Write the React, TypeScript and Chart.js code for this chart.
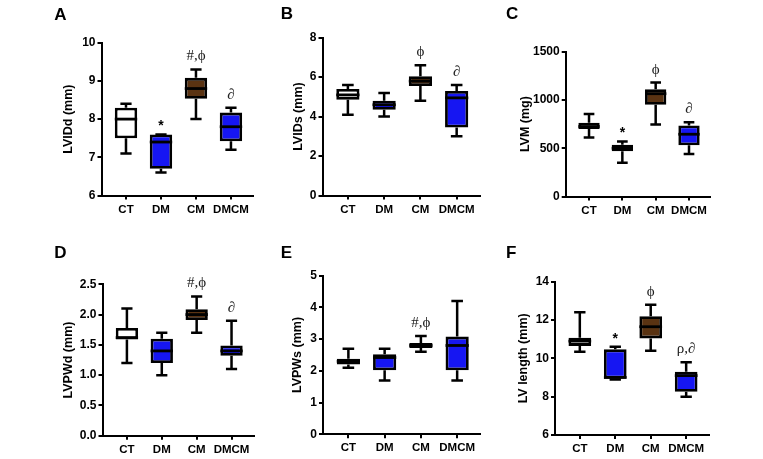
import React, { useEffect, useRef } from 'react';
import { Chart, registerables } from 'chart.js';

Chart.register(...registerables);

// ---------- DATA ----------
const categories = ['CT', 'DM', 'CM', 'DMCM'];
const boxColors = ['#ffffff', '#1616f2', '#5a3312', '#1616f2'];

// each row: [min, q1, median, q3, max]
const lviddStats = [
  [7.1, 7.5, 8.0, 8.3, 8.4],
  [6.6, 6.7, 7.4, 7.6, 7.6],
  [8.0, 8.53, 8.8, 9.08, 9.3],
  [7.2, 7.42, 7.8, 8.17, 8.3],
];
const lviddMarks = ['', '*', '#,ϕ', '∂'];
const lviddTicks = [6, 7, 8, 9, 10];

const lvidsStats = [
  [4.1, 4.85, 5.1, 5.4, 5.6],
  [4.0, 4.35, 4.6, 4.8, 5.2],
  [4.8, 5.55, 5.8, 6.05, 6.6],
  [3.0, 3.45, 4.95, 5.3, 5.6],
];
const lvidsMarks = ['', '', 'ϕ', '∂'];
const lvidsTicks = [0, 2, 4, 6, 8];

const lvmStats = [
  [610, 700, 725, 765, 855],
  [350, 470, 500, 535, 570],
  [745, 950, 1065, 1110, 1180],
  [440, 530, 645, 735, 770],
];
const lvmMarks = ['', '*', 'ϕ', '∂'];
const lvmTicks = [0, 500, 1000, 1500];

const lvpwdStats = [
  [1.2, 1.59, 1.62, 1.78, 2.1],
  [1.0, 1.2, 1.4, 1.6, 1.7],
  [1.7, 1.91, 2.0, 2.09, 2.3],
  [1.1, 1.32, 1.4, 1.49, 1.9],
];
const lvpwdMarks = ['', '', '#,ϕ', '∂'];
const lvpwdTicks = [0, 0.5, 1.0, 1.5, 2.0, 2.5];

const lvpwsStats = [
  [2.1, 2.2, 2.3, 2.38, 2.7],
  [1.7, 2.02, 2.42, 2.52, 2.7],
  [2.6, 2.72, 2.8, 2.88, 3.1],
  [1.7, 2.02, 2.8, 3.08, 4.2],
];
const lvpwsMarks = ['', '', '#,ϕ', ''];
const lvpwsTicks = [0, 1, 2, 3, 4, 5];

const lvlenStats = [
  [10.35, 10.65, 10.9, 11.08, 12.4],
  [8.9, 8.95, 9.0, 10.47, 10.6],
  [10.4, 11.04, 11.65, 12.2, 12.8],
  [8.0, 8.26, 9.1, 9.3, 9.8],
];
const lvlenMarks = ['', '*', 'ϕ', 'ρ,∂'];
const lvlenTicks = [6, 8, 10, 12, 14];

// ---------- LAYOUT ----------
const FONT = "'Liberation Sans', Arial, sans-serif";
const X_MIN = -0.7;
const X_MAX = 3.63;
const HX = 20;
const TITLE_HALF = 7.5;

type PanelDef = {
  letter: string;
  title: string;
  stats: number[][];
  marks: string[];
  ticks: number[];
  decimals: number;
  canvas: [number, number, number, number]; // x, y, w, h
  area: [number, number, number, number]; // L, T, R, B
  titleCx: number;
  letterPos: [number, number];
};

const panels: PanelDef[] = [
  { letter: 'A', title: 'LVIDd (mm)', stats: lviddStats, marks: lviddMarks, ticks: lviddTicks, decimals: 0,
    canvas: [30, 0, 230, 228], area: [101.5, 42.7, 253, 195.5], titleCx: 68.3, letterPos: [54.3, 20] },
  { letter: 'B', title: 'LVIDs (mm)', stats: lvidsStats, marks: lvidsMarks, ticks: lvidsTicks, decimals: 0,
    canvas: [265, 0, 230, 228], area: [322.5, 37.7, 479.5, 195.5], titleCx: 298.3, letterPos: [280.7, 19.3] },
  { letter: 'C', title: 'LVM (mg)', stats: lvmStats, marks: lvmMarks, ticks: lvmTicks, decimals: 0,
    canvas: [500, 0, 230, 228], area: [565.7, 51.7, 710, 196.5], titleCx: 525.7, letterPos: [506, 19.3] },
  { letter: 'D', title: 'LVPWd (mm)', stats: lvpwdStats, marks: lvpwdMarks, ticks: lvpwdTicks, decimals: 1,
    canvas: [30, 228, 230, 231], area: [102.5, 284.3, 253.5, 435.7], titleCx: 68.3, letterPos: [54.3, 258.3] },
  { letter: 'E', title: 'LVPWs (mm)', stats: lvpwsStats, marks: lvpwsMarks, ticks: lvpwsTicks, decimals: 0,
    canvas: [265, 228, 230, 231], area: [323, 275.7, 480, 434.3], titleCx: 297.7, letterPos: [280.7, 257.7] },
  { letter: 'F', title: 'LV length (mm)', stats: lvlenStats, marks: lvlenMarks, ticks: lvlenTicks, decimals: 0,
    canvas: [500, 228, 230, 231], area: [555, 281.7, 708.5, 435], titleCx: 523.3, letterPos: [506, 257.7] },
];

function makeBoxPlugin(p: PanelDef) {
  const [cx, cy] = p.canvas;
  return {
    id: 'boxplot' + p.letter,
    beforeDatasetsDraw(chart: any) {
      const ctx = chart.ctx;
      const ys = chart.scales.y;
      const meta = chart.getDatasetMeta(0);
      ctx.save();
      ctx.strokeStyle = '#000';
      ctx.lineWidth = 2.5;
      p.stats.forEach((s, i) => {
        const bar = meta.data[i];
        const x = bar.x;
        const hw = bar.width * 0.25;
        const pMin = ys.getPixelForValue(s[0]);
        const pQ1 = ys.getPixelForValue(s[1]);
        const pQ3 = ys.getPixelForValue(s[3]);
        const pMax = ys.getPixelForValue(s[4]);
        ctx.beginPath();
        ctx.moveTo(x, pQ3);
        ctx.lineTo(x, pMax);
        ctx.moveTo(x - hw, pMax);
        ctx.lineTo(x + hw, pMax);
        ctx.moveTo(x, pQ1);
        ctx.lineTo(x, pMin);
        ctx.moveTo(x - hw, pMin);
        ctx.lineTo(x + hw, pMin);
        ctx.stroke();
      });
      ctx.restore();
    },
    afterDatasetsDraw(chart: any) {
      const ctx = chart.ctx;
      const ys = chart.scales.y;
      const meta = chart.getDatasetMeta(0);
      ctx.save();
      ctx.strokeStyle = '#000';
      ctx.lineWidth = 2.8;
      p.stats.forEach((s, i) => {
        const bar = meta.data[i];
        const x = bar.x;
        const hw = bar.width / 2;
        const pMed = ys.getPixelForValue(s[2]);
        ctx.beginPath();
        ctx.moveTo(x - hw, pMed);
        ctx.lineTo(x + hw, pMed);
        ctx.stroke();
        const m = p.marks[i];
        if (m) {
          const pMax = ys.getPixelForValue(s[4]);
          ctx.textAlign = 'center';
          ctx.textBaseline = 'middle';
          if (m === '*') {
            ctx.fillStyle = '#000';
            ctx.font = `bold 14px ${FONT}`;
            ctx.fillText(m, x, pMax - 8);
          } else {
            ctx.fillStyle = '#222';
            ctx.font = `15px 'Liberation Serif', 'DejaVu Serif', serif`;
            ctx.fillText(m, x, pMax - 13);
          }
        }
      });
      ctx.restore();
    },
    afterDraw(chart: any) {
      const ctx = chart.ctx;
      ctx.save();
      ctx.fillStyle = '#000';
      ctx.font = `bold 17px ${FONT}`;
      ctx.textAlign = 'left';
      ctx.textBaseline = 'alphabetic';
      ctx.fillText(p.letter, p.letterPos[0] - cx, p.letterPos[1] - cy);
      ctx.restore();
    },
  };
}

function Panel({ p }: { p: PanelDef }) {
  const ref = useRef<HTMLCanvasElement | null>(null);
  useEffect(() => {
    if (!ref.current) return;
    const [cx, cy, w, h] = p.canvas;
    const [L, T, R, B] = p.area;
    const titleLeft = p.titleCx - TITLE_HALF;
    const wy = L - titleLeft;
    const padding = {
      left: titleLeft - cx,
      top: T - cy,
      right: cx + w - R,
      bottom: cy + h - B - HX,
    };
    const chart = new Chart(ref.current, {
      type: 'bar',
      data: {
        datasets: [
          {
            data: p.stats.map((s, i) => ({ x: i, y: [s[1], s[3]] })) as any,
            backgroundColor: boxColors,
            borderColor: '#000',
            borderWidth: 2.8,
            borderSkipped: false,
            categoryPercentage: 1,
            barPercentage: 0.64,
          },
        ],
      },
      options: {
        animation: false,
        responsive: false,
        events: [],
        layout: { padding },
        plugins: { legend: { display: false }, tooltip: { enabled: false } },
        scales: {
          x: {
            type: 'linear',
            min: X_MIN,
            max: X_MAX,
            offset: false,
            afterBuildTicks: (s: any) => {
              s.ticks = categories.map((_, i) => ({ value: i }));
            },
            afterFit: (s: any) => {
              s.height = HX;
            },
            ticks: {
              callback: (v: any) => categories[v as number],
              color: '#000',
              font: { family: FONT, size: 11.5, weight: 'bold' },
              padding: 3,
              autoSkip: false,
              maxRotation: 0,
              minRotation: 0,
            },
            grid: { drawOnChartArea: false, offset: false, tickLength: 4, color: '#000', lineWidth: 2 },
            border: { color: '#000', width: 2 },
          },
          y: {
            type: 'linear',
            min: p.ticks[0],
            max: p.ticks[p.ticks.length - 1],
            afterBuildTicks: (s: any) => {
              s.ticks = p.ticks.map((v) => ({ value: v }));
            },
            afterFit: (s: any) => {
              s.width = wy;
            },
            ticks: {
              callback: (v: any) => Number(v).toFixed(p.decimals),
              color: '#000',
              font: { family: FONT, size: 12, weight: 'bold' },
              padding: 2,
            },
            grid: { drawOnChartArea: false, tickLength: 4, color: '#000', lineWidth: 2 },
            border: { color: '#000', width: 2 },
            title: {
              display: true,
              text: p.title,
              color: '#000',
              font: { family: FONT, size: 12.5, weight: 'bold' },
              padding: 0,
            },
          },
        },
      } as any,
      plugins: [makeBoxPlugin(p)],
    });
    return () => chart.destroy();
  }, [p]);
  const [cx, cy, w, h] = p.canvas;
  return (
    <canvas
      ref={ref}
      width={w}
      height={h}
      style={{ position: 'absolute', left: cx, top: cy, width: w, height: h }}
    />
  );
}

export default function App() {
  return (
    <div
      style={{
        position: 'fixed',
        left: 0,
        top: 0,
        width: 763,
        height: 459,
        background: '#fff',
        overflow: 'hidden',
      }}
    >
      {panels.map((p) => (
        <Panel key={p.letter} p={p} />
      ))}
    </div>
  );
}
